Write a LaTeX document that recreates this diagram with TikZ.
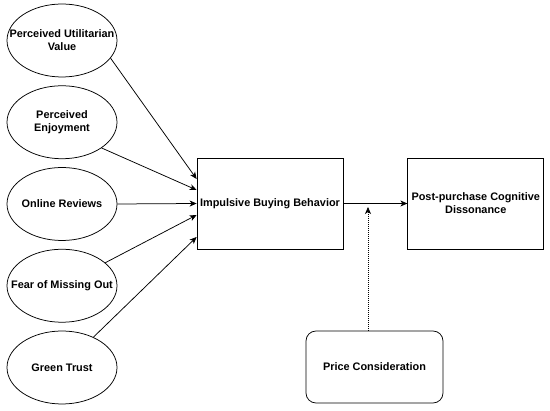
\documentclass[tikz,border=0pt]{standalone}
\usepackage{fontspec}
\setmainfont{Liberation Sans}
\usepackage{tikz}
\usetikzlibrary{shapes.geometric,arrows.meta,positioning}

\begin{document}
\begin{tikzpicture}[
  x=1pt, y=1pt, line width=0.75pt,
  font=\fontsize{10.9}{13}\selectfont\bfseries,
  factor/.style={draw, ellipse, minimum width=110pt, minimum height=73pt, inner xsep=-22pt, inner ysep=0pt, align=center},
  box/.style={draw, minimum height=91pt, inner sep=2pt, align=center},
  arr/.style={-{Stealth[length=7pt, width=6pt, inset=2pt]}},
]
\useasboundingbox (0,0) rectangle (550,-411);
\node[factor] at (62,-40.5) (e1) {Perceived Utilitarian\\Value};
\node[factor, below=8pt of e1] (e2) {Perceived\\Enjoyment};
\node[factor, below=8pt of e2] (e3) {Online Reviews};
\node[factor, below=8pt of e3] (e4) {Fear of Missing Out};
\node[factor, below=8pt of e4] (e5) {Green Trust};

\node[box, minimum width=146pt] at (270,-203.5) (ibb) {Impulsive Buying Behavior};
\node[box, minimum width=136pt, right=64pt of ibb] (pcd) {Post-purchase Cognitive\\Dissonance};
\node[draw, rounded corners=10pt, minimum width=137pt, minimum height=72pt] at (374.5,-367) (price) {Price Consideration};
\coordinate (mod) at (368,-207);

\draw[arr] (e1.-20) -- ([yshift=24.5pt]ibb.west);
\draw[arr] (e2.-33) -- ([yshift=13.5pt]ibb.west);
\draw[arr] (e3.east) -- (ibb.west);
\draw[arr] (e4.28) -- ([yshift=-11.5pt]ibb.west);
\draw[arr] (e5.44) -- ([yshift=-33.5pt]ibb.west);
\draw[arr] (ibb.east) -- (pcd.west);
\draw[arr, dash pattern=on 1pt off 1pt] ([xshift=-6.5pt]price.north) -- (mod);
\end{tikzpicture}
\end{document}
